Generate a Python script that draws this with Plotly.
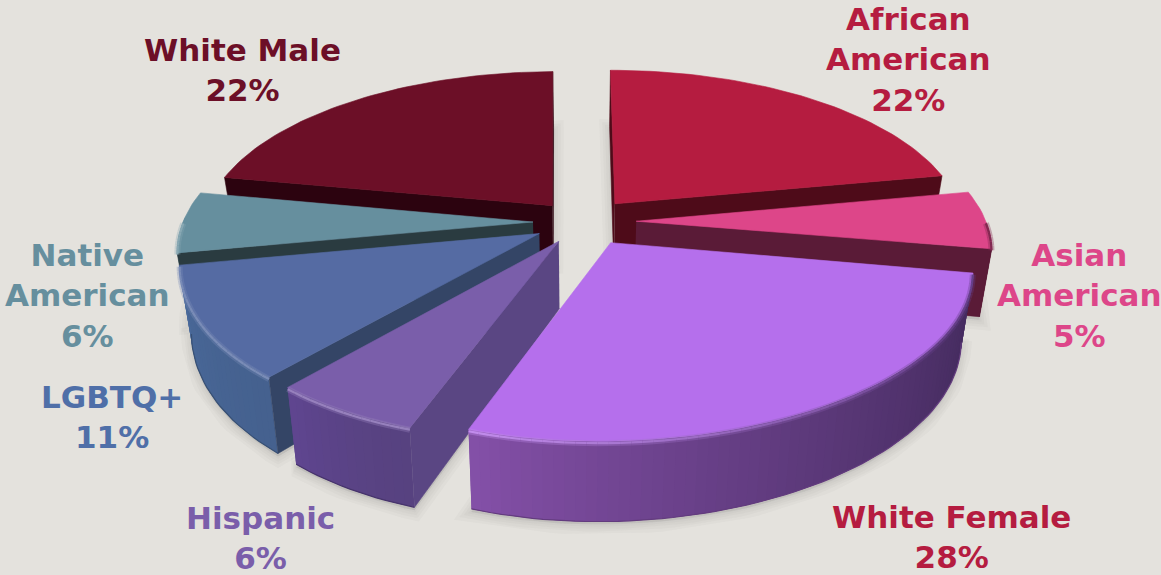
import math
import plotly.graph_objects as go

# Share of each group, clockwise from twelve o'clock
categories = ["African<br>American", "Asian<br>American", "White Female", "Hispanic",
              "LGBTQ+", "Native<br>American", "White Male"]
values = [22, 5, 28, 6, 11, 6, 22]

top_colors = ["#b51c40", "#dd4689", "#b56fec", "#7a5eaa", "#556ba3", "#668f9e", "#6c0f27"]
face_colors = ["#4e0b19", "#5a1b37", "#452c60", "#5a4683", "#344566", "#2a3b40", "#2c030f"]
wall_start = ["#7a1029", "#5a1b37", "#442b5e", "#574280", "#45618f", "#5a8597", "#4a0a1a"]
wall_end = ["#7a1029", "#5a1b37", "#8450a8", "#5f4590", "#4a6a9b", "#5f93a8", "#4a0a1a"]
label_colors = ["#b51c40", "#dd4689", "#b51c40", "#7a5eaa", "#4f6fa8", "#668f9e", "#6c0f27"]
label_centers = [(908, 59), (1079, 295), (951, 537), (260, 538), (112, 417), (87, 295), (242, 70)]
bg_color = "#e4e2dd"

# Scene set-up for the tilted, exploded disc
CX, CY = 582, 222
SX, SY = 350, 160
PERSPECTIVE = 0.158
HEIGHT = 66
TAPER = 0.03
SKEW = 12
PULL = [0.15, 0.155, 0.15, 0.135, 0.14, 0.14, 0.135]
# Small per-slice trims of the cut angles, in degrees, for the exploded layout
TRIM_START = [0, 0, 3, 0, 0, 0, 0]
TRIM_END = [0, 2.5, 0.3, 0, 0, 0, -0.7]
ARC_STEP = 1.5


def project(X, Z, h=0.0):
    """Plane coordinates (X right, Z toward viewer) and drop h to page pixels."""
    f = 1 / (1 - PERSPECTIVE * Z)
    shrink = 1 - TAPER * h / HEIGHT
    skew = SKEW * max(Z, 0.0) ** 3
    return CX + SX * X * f * shrink - skew, CY + SY * Z * f + h * f


def rgb(hex_color):
    return [int(hex_color[i:i + 2], 16) for i in (1, 3, 5)]


def mix(a, b, t):
    ca, cb = rgb(a), rgb(b)
    return "#%02x%02x%02x" % tuple(round(p + (q - p) * t) for p, q in zip(ca, cb))


fig = go.Figure()


def poly(points, fill, line=None, width=0.6, opacity=1.0):
    fig.add_trace(go.Scatter(
        x=[p[0] for p in points], y=[p[1] for p in points], mode="lines",
        fill="toself", fillcolor=fill, line=dict(color=line or fill, width=width),
        opacity=opacity, hoverinfo="skip", showlegend=False))


def stroke(points, color, width, opacity=1.0):
    fig.add_trace(go.Scatter(
        x=[p[0] for p in points], y=[p[1] for p in points], mode="lines",
        line=dict(color=color, width=width), opacity=opacity,
        hoverinfo="skip", showlegend=False))


# Turn the shares into clockwise angle spans
total = sum(values)
spans = []
running = 0.0
for v in values:
    spans.append((running * 360 / total, (running + v) * 360 / total))
    running += v


def slice_geometry(i):
    a0, a1 = spans[i]
    mid = math.radians((a0 + a1) / 2)
    ox, oz = PULL[i] * math.sin(mid), -PULL[i] * math.cos(mid)
    a0 += TRIM_START[i]
    a1 += TRIM_END[i]
    n = max(2, int((a1 - a0) / ARC_STEP))
    angles = [a0 + (a1 - a0) * k / n for k in range(n + 1)]
    rim = [(ox + math.sin(math.radians(a)), oz - math.cos(math.radians(a))) for a in angles]
    return (ox, oz), rim, angles


def faces_viewer(apex, end, is_start):
    """True when a cut face turns toward the viewer, judged from its on-page winding."""
    p0, p1, p2 = project(*apex), project(*end), project(*end, HEIGHT)
    cross = (p1[0] - p0[0]) * (p2[1] - p1[1]) - (p1[1] - p0[1]) * (p2[0] - p1[0])
    return cross < 0 if is_start else cross > 0


# Soft contact shadow on the ground beneath every slice
for i in range(len(values)):
    apex, rim, _ = slice_geometry(i)
    ground = [project(apex[0], apex[1], HEIGHT)] + [project(x, z, HEIGHT) for x, z in rim]
    ground = [(x, y + 3) for x, y in ground]
    ground.append(ground[0])
    for w in (20, 14, 9, 4):
        poly(ground, "rgba(120,115,105,0.045)", "rgba(120,115,105,0.045)", width=w)

# Painted back to front so nearer slices cover the farther ones
for i in (6, 0, 1, 5, 4, 3, 2):
    apex, rim, angles = slice_geometry(i)

    # Outer wall, shaded strip by strip along the arc; only the part turned toward the viewer
    n = len(rim) - 1
    front = [k for k in range(n) if math.cos(math.radians((angles[k] + angles[k + 1]) / 2)) < 0]
    for k in front:
        c = mix(wall_start[i], wall_end[i], ((k + 0.5) / n) ** 1.4)
        # Each strip runs under its neighbour so no seam shows between them
        k2 = min(k + 2, n)
        strip = [project(*rim[j]) for j in range(k, k2 + 1)] + \
                [project(*rim[j], HEIGHT) for j in range(k2, k - 1, -1)]
        poly(strip, c, width=0)
    # Darker seam along the bottom edge of the wall
    if front:
        stroke([project(*rim[j], HEIGHT) for j in range(front[0], front[-1] + 2)],
               mix(wall_end[i], "#000000", 0.25), 1.2)

    # Cut faces running from the centre to the rim, where they can be seen
    for end, is_start in ((rim[0], True), (rim[-1], False)):
        if faces_viewer(apex, end, is_start):
            poly([project(*apex), project(*end), project(*end, HEIGHT), project(*apex, HEIGHT)],
                 face_colors[i])

    # Top surface
    top = [project(*apex)] + [project(x, z) for x, z in rim] + [project(*apex)]
    poly(top, top_colors[i])

    # Bevel along the rim: bright where it catches the light, dim on the far right
    for k in front:
        ang = (angles[k] + angles[k + 1]) / 2
        light = max(0.0, min(1.0, (ang - 125) / 75))
        c = mix(mix(top_colors[i], wall_start[i], 0.7), mix(top_colors[i], "#ffffff", 0.22), light)
        pts = [project(*rim[k], 1.5), project(*rim[k + 1], 1.5)]
        stroke(pts, c, 6.0, opacity=0.35)
        stroke(pts, c, 2.2)

# Category labels with their share
for name, v, color, (lx, ly) in zip(categories, values, label_colors, label_centers):
    fig.add_annotation(x=lx, y=ly, text=f"<b>{name}<br>{v}%</b>", showarrow=False,
                       xanchor="center", yanchor="middle", align="center",
                       font=dict(family="DejaVu Sans", size=31, color=color))

fig.update_layout(
    width=1161, height=575, margin=dict(l=0, r=0, t=0, b=0),
    paper_bgcolor=bg_color, plot_bgcolor=bg_color, showlegend=False,
    xaxis=dict(range=[0, 1161], visible=False, fixedrange=True),
    yaxis=dict(range=[575, 0], visible=False, fixedrange=True),
)
fig.write_html("out.html", config={"displayModeBar": False})
